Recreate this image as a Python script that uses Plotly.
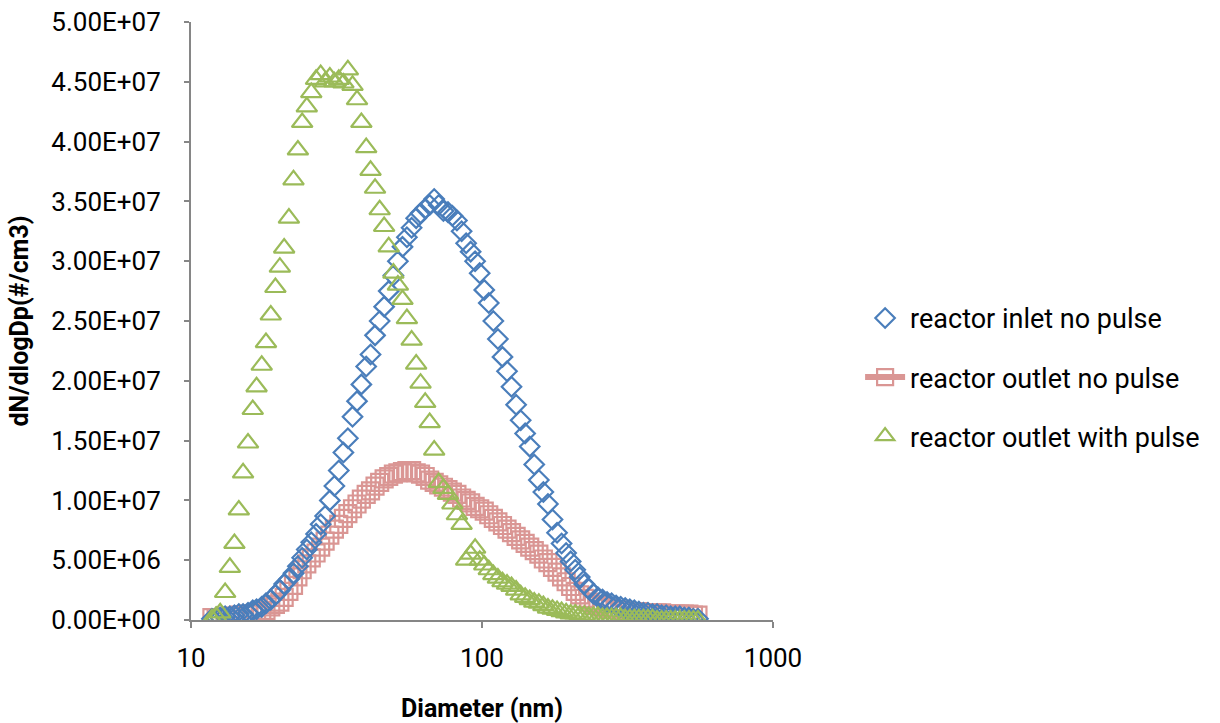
import plotly.graph_objects as go

# Particle diameter channels (nm)
diameter = [
    11.8, 12.2, 12.6, 13.1, 13.6, 14.1, 14.6, 15.1, 15.7, 16.3,
    16.8, 17.5, 18.1, 18.8, 19.5, 20.2, 20.9, 21.7, 22.5, 23.3,
    24.1, 25.0, 25.9, 26.9, 27.9, 28.9, 30.0, 31.1, 32.2, 33.4,
    34.6, 35.9, 37.2, 38.5, 40.0, 41.4, 42.9, 44.5, 46.1, 47.8,
    49.6, 51.4, 53.3, 55.2, 57.3, 59.4, 61.5, 63.8, 66.1, 68.5,
    71.0, 73.7, 76.4, 79.1, 82.0, 85.1, 88.2, 91.4, 94.7, 98.2,
    101.8, 105.5, 109.4, 113.4, 117.6, 121.9, 126.3, 131.0, 135.8, 140.7,
    145.9, 151.2, 156.8, 162.5, 168.5, 174.7, 181.1, 187.7, 194.6, 201.7,
    209.1, 216.7, 224.7, 232.9, 241.4, 250.3, 259.5, 269.0, 278.8, 289.0,
    299.6, 310.6, 322.0, 333.8, 346.0, 358.7, 371.8, 385.4, 399.5, 414.2,
    429.4, 445.1, 461.4, 478.3, 495.8, 514.0, 532.8, 552.3,
]

# dN/dlogDp values in units of 1e7 #/cm3
inlet_no_pulse = [
    0.01, 0.02, 0.02, 0.03, 0.03, 0.04, 0.05, 0.05, 0.06, 0.08,
    0.09, 0.11, 0.14, 0.17, 0.21, 0.25, 0.30, 0.34, 0.39, 0.45,
    0.52, 0.59, 0.65, 0.72, 0.80, 0.87, 1.00, 1.12, 1.25, 1.40,
    1.52, 1.70, 1.83, 1.97, 2.12, 2.22, 2.38, 2.50, 2.62, 2.75,
    2.88, 3.00, 3.12, 3.20, 3.28, 3.36, 3.40, 3.44, 3.47, 3.52,
    3.47, 3.42, 3.41, 3.38, 3.34, 3.25, 3.15, 3.08, 3.00, 2.90,
    2.76, 2.65, 2.50, 2.35, 2.20, 2.08, 1.95, 1.80, 1.67, 1.56,
    1.45, 1.30, 1.17, 1.07, 0.97, 0.84, 0.73, 0.64, 0.56, 0.49,
    0.42, 0.36, 0.30, 0.26, 0.22, 0.19, 0.17, 0.15, 0.14, 0.12,
    0.11, 0.10, 0.09, 0.08, 0.07, 0.06, 0.06, 0.05, 0.05, 0.04,
    0.04, 0.03, 0.03, 0.03, 0.02, 0.02, 0.01, 0.01,
]

outlet_no_pulse = [
    0.02, 0.02, 0.02, 0.03, 0.03, 0.03, 0.04, 0.04, 0.05, 0.05,
    0.06, 0.07, 0.08, 0.11, 0.13, 0.15, 0.19, 0.24, 0.29, 0.36,
    0.42, 0.47, 0.52, 0.56, 0.61, 0.66, 0.71, 0.76, 0.80, 0.85,
    0.89, 0.93, 0.97, 1.01, 1.05, 1.08, 1.12, 1.15, 1.18, 1.20,
    1.22, 1.23, 1.24, 1.25, 1.25, 1.23, 1.22, 1.20, 1.17, 1.15,
    1.13, 1.11, 1.09, 1.07, 1.05, 1.02, 1.00, 0.98, 0.95, 0.93,
    0.91, 0.88, 0.85, 0.82, 0.79, 0.76, 0.73, 0.70, 0.67, 0.64,
    0.61, 0.58, 0.55, 0.51, 0.48, 0.44, 0.40, 0.36, 0.32, 0.28,
    0.24, 0.21, 0.18, 0.15, 0.13, 0.12, 0.11, 0.10, 0.09, 0.09,
    0.08, 0.08, 0.07, 0.07, 0.07, 0.06, 0.06, 0.06, 0.06, 0.06,
    0.05, 0.05, 0.05, 0.05, 0.05, 0.05, 0.04, 0.04,
]

outlet_with_pulse = [
    0.01, 0.03, 0.06, 0.23, 0.44, 0.64, 0.92, 1.23, 1.48, 1.76,
    1.95, 2.13, 2.32, 2.55, 2.78, 2.95, 3.11, 3.36, 3.68, 3.93,
    4.16, 4.29, 4.41, 4.52, 4.56, 4.50, 4.54, 4.50, 4.52, 4.49,
    4.60, 4.47, 4.35, 4.16, 3.95, 3.76, 3.61, 3.43, 3.29, 3.12,
    2.90, 2.80, 2.68, 2.52, 2.34, 2.14, 1.98, 1.82, 1.65, 1.42,
    1.15, 1.10, 1.05, 0.97, 0.88, 0.80, 0.50, 0.55, 0.60, 0.50,
    0.46, 0.42, 0.38, 0.35, 0.32, 0.30, 0.28, 0.25, 0.21, 0.19,
    0.17, 0.15, 0.14, 0.12, 0.10, 0.09, 0.08, 0.07, 0.06, 0.05,
    0.05, 0.04, 0.04, 0.03, 0.03, 0.03, 0.02, 0.02, 0.02, 0.02,
    0.02, 0.01, 0.01, 0.01, 0.01, 0.01, 0.01, 0.01, 0.00, 0.00,
    0.00, 0.00, 0.00, 0.00, 0.00, 0.00, 0.00, 0.00,
]

series_names = ["reactor inlet no pulse", "reactor outlet no pulse", "reactor outlet with pulse"]

y_tick_values = [0, 5e6, 1e7, 1.5e7, 2e7, 2.5e7, 3e7, 3.5e7, 4e7, 4.5e7, 5e7]
y_tick_labels = ["0.00E+00", "5.00E+06", "1.00E+07", "1.50E+07", "2.00E+07", "2.50E+07",
                 "3.00E+07", "3.50E+07", "4.00E+07", "4.50E+07", "5.00E+07"]
x_tick_values = [10, 100, 1000]
x_tick_labels = ["10", "100", "1000"]

assert len(diameter) == len(inlet_no_pulse) == len(outlet_no_pulse) == len(outlet_with_pulse)

SCALE = 1e7
BLUE = "#4A7EBB"
PINK = "#DA9694"
GREEN = "#9BBB59"
FONT = "Roboto"
AXIS_GREY = "#868686"
LW = 2.2

fig = go.Figure()

# pink data (drawn first / below)
fig.add_trace(go.Scatter(
    x=diameter, y=[v * SCALE for v in outlet_no_pulse], mode="markers",
    name=series_names[1], legendgroup="b", showlegend=False,
    marker=dict(symbol="square-open", size=17, color=PINK, line=dict(width=LW, color=PINK)),
))
fig.add_trace(go.Scatter(
    x=diameter, y=[v * SCALE for v in inlet_no_pulse], mode="markers",
    name=series_names[0], legendgroup="a", legendrank=1,
    marker=dict(symbol="diamond-open", size=15, color=BLUE, line=dict(width=LW, color=BLUE)),
))
# legend entry for pink series (line + square as in reference legend)
fig.add_trace(go.Scatter(
    x=[None], y=[None], mode="lines+markers",
    name=series_names[1], legendgroup="b", legendrank=2,
    line=dict(color=PINK, width=6),
    marker=dict(symbol="square-open", size=16, color=PINK, line=dict(width=LW, color=PINK)),
))
fig.add_trace(go.Scatter(
    x=diameter, y=[v * SCALE for v in outlet_with_pulse], mode="markers",
    name=series_names[2], legendgroup="c", legendrank=3,
    marker=dict(symbol="triangle-up-open", size=18, color=GREEN, line=dict(width=LW, color=GREEN)),
))

fig.update_layout(
    width=1220, height=723,
    margin=dict(l=191, r=447, t=22, b=103, autoexpand=False),
    paper_bgcolor="white", plot_bgcolor="white",
    font=dict(family=FONT, size=26, color="black"),
    legend=dict(
        xref="container", yref="container", x=0.705, y=0.478, xanchor="left", yanchor="middle",
        font=dict(family=FONT, size=27, color="black"),
        tracegroupgap=21, itemwidth=40, bgcolor="rgba(0,0,0,0)",
    ),
    showlegend=True,
)
fig.update_xaxes(
    type="log", range=[1, 3],
    tickvals=x_tick_values, ticktext=x_tick_labels,
    showline=True, linecolor=AXIS_GREY, linewidth=2,
    ticks="outside", ticklen=6, tickcolor=AXIS_GREY, tickwidth=2,
    ticklabelstandoff=8,
    showgrid=False, zeroline=False,
    tickfont=dict(family=FONT, size=26, color="black"),
    title=dict(text="<b>Diameter (nm)</b>", font=dict(family=FONT, size=25, color="black"), standoff=27),
)
fig.update_yaxes(
    range=[0, 5e7],
    tickvals=y_tick_values, ticktext=y_tick_labels,
    showline=True, linecolor=AXIS_GREY, linewidth=2,
    ticks="outside", ticklen=5, tickcolor=AXIS_GREY, tickwidth=2,
    ticklabelstandoff=18,
    showgrid=False, zeroline=False,
    tickfont=dict(family=FONT, size=26, color="black"),
    title=dict(text="<b>dN/dlogDp(#/cm3)</b>", font=dict(family=FONT, size=25, color="black"), standoff=16),
)

fig.write_html("out.html")
